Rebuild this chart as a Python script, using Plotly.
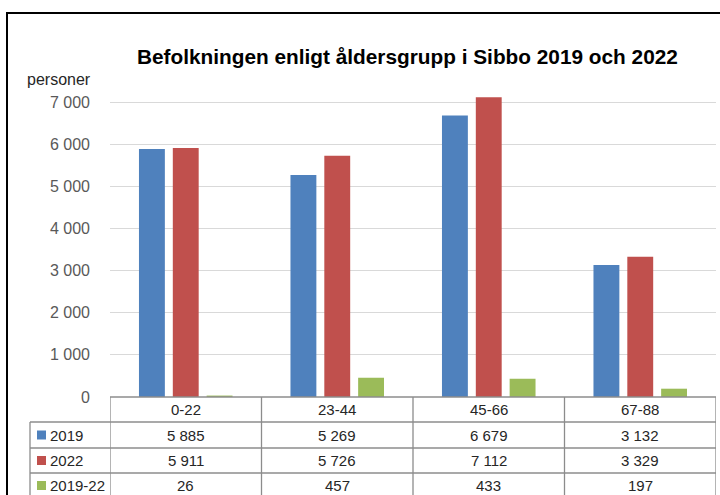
import plotly.graph_objects as go

categories = ["0-22", "23-44", "45-66", "67-88"]
series_names = ["2019", "2022", "2019-22"]
values_2019 = [5885, 5269, 6679, 3132]
values_2022 = [5911, 5726, 7112, 3329]
values_diff = [26, 457, 433, 197]
colors = ["#4F81BD", "#C0504D", "#9BBB59"]
tick_values = [0, 1000, 2000, 3000, 4000, 5000, 6000, 7000]
title = "Befolkningen enligt åldersgrupp i Sibbo 2019 och 2022"
y_title = "personer"

W, H = 720, 495
FONT = "Liberation Sans Narrow, Arial Narrow, Liberation Sans, sans-serif"


def px(x):
    return x / W


def py(y):
    return (H - y) / H


def fmt(v):
    return f"{v:,}".replace(",", " ")


all_series = [values_2019, values_2022, values_diff]

fig = go.Figure()
for name, vals, col in zip(series_names, all_series, colors):
    fig.add_trace(go.Bar(x=list(range(len(categories))), y=vals, name=name,
                         marker=dict(color=col, line=dict(width=0)),
                         hoverinfo="skip"))

x_left, x_right = 110, 716
y_zero, y_7000 = 397, 102
y_max = 7200
px_per_unit = (y_zero - y_7000) / 7000
y_top = y_zero - y_max * px_per_unit

shapes = []
line_col = "#8c8c8c"
shapes.append(dict(type="line", xref="paper", yref="paper", x0=px(x_left), x1=px(x_right),
                   y0=py(397), y1=py(397), line=dict(color=line_col, width=1.3)))
for yy in [422, 448, 473]:
    shapes.append(dict(type="line", xref="paper", yref="paper", x0=px(30), x1=px(x_right),
                       y0=py(yy), y1=py(yy), line=dict(color=line_col, width=1.3)))
shapes.append(dict(type="line", xref="paper", yref="paper", x0=px(30), x1=px(30),
                   y0=py(422), y1=py(500), line=dict(color=line_col, width=1.3)))
for i in range(len(categories) + 1):
    xx = i - 0.5
    shapes.append(dict(type="line", xref="x", yref="paper", x0=xx, x1=xx,
                       y0=py(397), y1=py(500), line=dict(color=line_col, width=1.3)))
shapes.append(dict(type="rect", xref="paper", yref="paper", x0=px(7), x1=px(760),
                   y0=py(540), y1=py(13), line=dict(color="black", width=2)))

annotations = []
annotations.append(dict(text=f"<b>{title}</b>", xref="paper", yref="paper", x=px(407), y=py(57),
                        showarrow=False, xanchor="center", yanchor="middle",
                        font=dict(family=FONT, size=20.8, color="black")))
annotations.append(dict(text=y_title, xref="paper", yref="paper", x=px(25), y=py(79),
                        showarrow=False, xanchor="left", yanchor="middle",
                        font=dict(family=FONT, size=16, color="#262626")))
for i, c in enumerate(categories):
    annotations.append(dict(text=c, xref="x", yref="paper", x=i, y=py(409.5), showarrow=False,
                            xanchor="center", yanchor="middle",
                            font=dict(family=FONT, size=15, color="#262626")))
row_centers = [435, 460.5, 485.5]
for r, (name, vals, col) in enumerate(zip(series_names, all_series, colors)):
    yc = row_centers[r]
    shapes.append(dict(type="rect", xref="paper", yref="paper", x0=px(37), x1=px(46),
                       y0=py(yc + 4.5), y1=py(yc - 4.5), fillcolor=col, line=dict(width=0)))
    annotations.append(dict(text=name, xref="paper", yref="paper", x=px(48), y=py(yc),
                            showarrow=False, xanchor="left", yanchor="middle",
                            font=dict(family=FONT, size=15, color="#262626")))
    for i, v in enumerate(vals):
        annotations.append(dict(text=fmt(v), xref="x", yref="paper", x=i, y=py(yc),
                                showarrow=False, xanchor="center", yanchor="middle",
                                font=dict(family=FONT, size=15, color="#262626")))

fig.update_layout(
    width=W, height=H,
    margin=dict(l=0, r=0, t=0, b=0, autoexpand=False),
    paper_bgcolor="white", plot_bgcolor="white",
    barmode="group", bargap=0.33, bargroupgap=0.235,
    showlegend=False,
    separators=". ",
    shapes=shapes, annotations=annotations,
    xaxis=dict(domain=[px(x_left), px(x_right)], range=[-0.5, len(categories) - 0.5],
               showticklabels=False, showgrid=False, zeroline=False, showline=False, ticks=""),
    yaxis=dict(domain=[py(y_zero), py(y_top)], range=[0, y_max],
               tickmode="array", tickvals=tick_values,
               ticktext=[fmt(v) for v in tick_values],
               showgrid=True, gridcolor="#d9d9d9", gridwidth=1.3, zeroline=False,
               showline=False, ticks="", ticklabelstandoff=19, automargin=False,
               tickfont=dict(family=FONT, size=16, color="#595959")),
)

fig.write_html("out.html", config={"displayModeBar": False},
               post_script="document.body.style.margin='0';document.body.style.overflow='hidden';")
